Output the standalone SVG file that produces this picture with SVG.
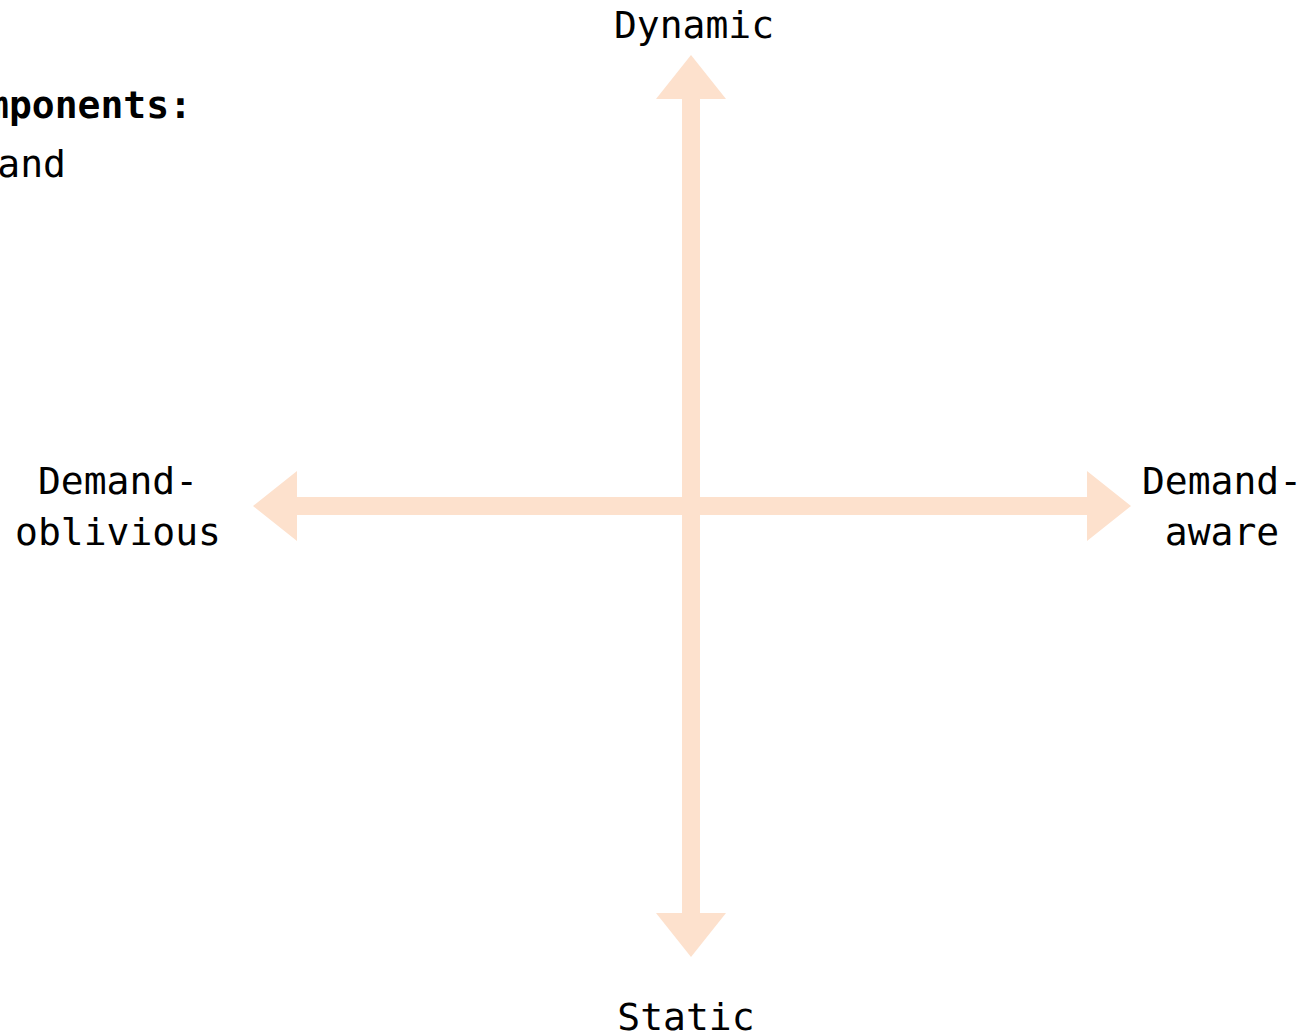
<svg xmlns="http://www.w3.org/2000/svg" width="1307" height="1036" viewBox="0 0 1307 1036">
<style>
text{font-family:"DejaVu Sans Mono","Liberation Mono",monospace;font-size:38px;fill:#000}
.b{font-weight:bold}
.ax{fill:#FDE1CD}
</style>
<rect width="1307" height="1036" fill="#fff"/>
<g id="connectors">
<polygon class="ax" points="253,506 297,471 297,497 1087,497 1087,471 1131,506 1087,541 1087,515 297,515 297,541"/>
<polygon class="ax" points="691,55 726,99 700,99 700,913 726,913 691,957 656,913 682,913 682,99 656,99"/>
</g>
<g id="note">
<text class="b" x="192" y="118" text-anchor="end">mponents:</text>
<text x="66" y="177" text-anchor="end">and</text>
</g>
<g id="dynamic"><text x="694" y="38" text-anchor="middle">Dynamic</text></g>
<g id="static"><text x="686" y="1030" text-anchor="middle">Static</text></g>
<g id="oblivious"><text x="118" y="494" text-anchor="middle">Demand-</text><text x="118" y="545" text-anchor="middle">oblivious</text></g>
<g id="aware"><text x="1222" y="494" text-anchor="middle">Demand-</text><text x="1222" y="545" text-anchor="middle">aware</text></g>
</svg>
